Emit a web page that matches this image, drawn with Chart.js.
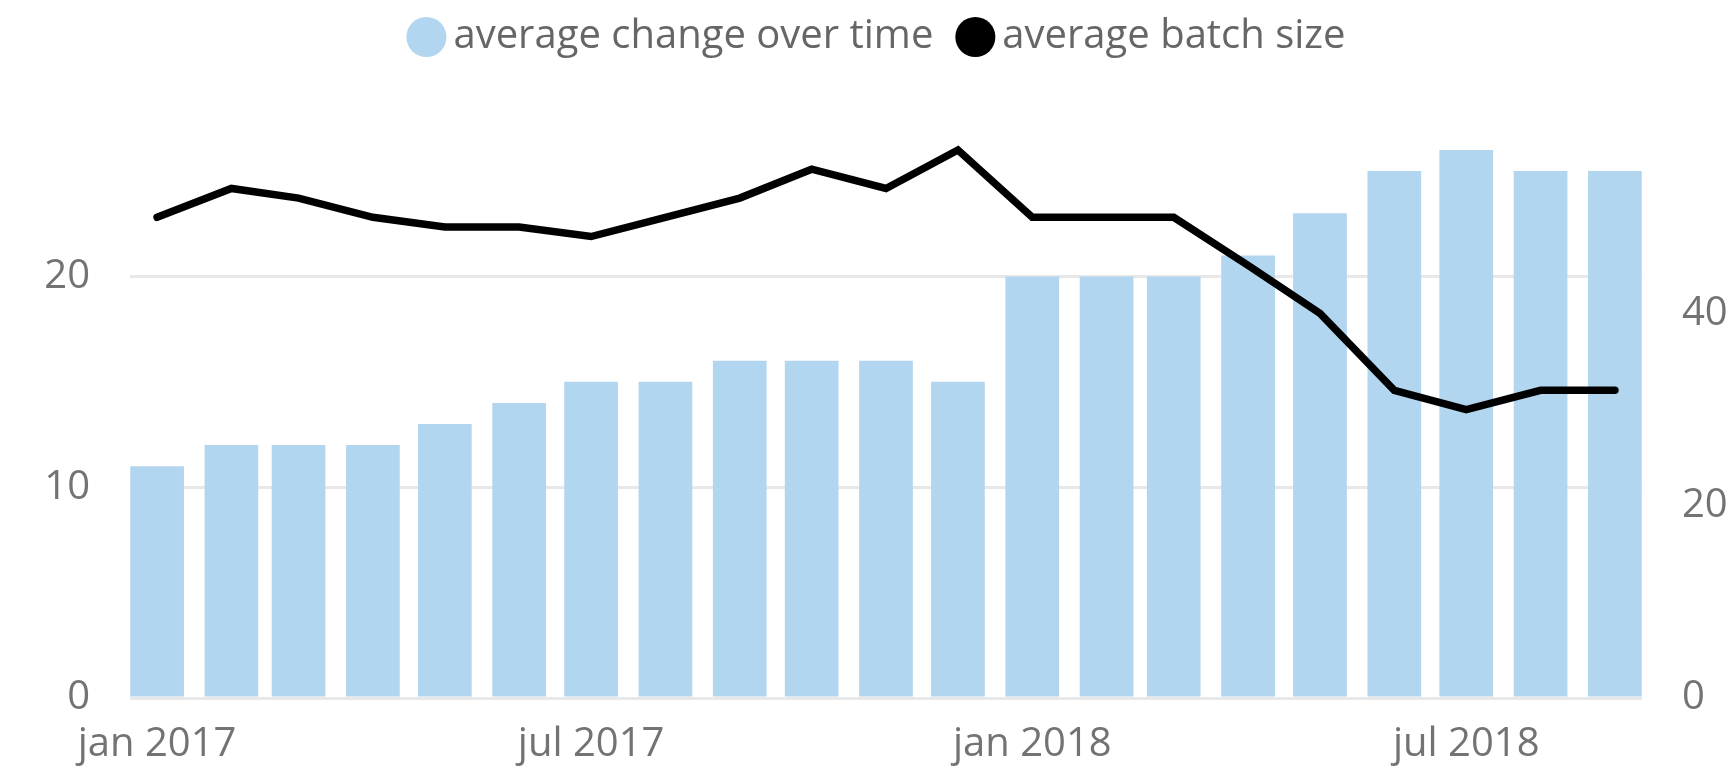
<!DOCTYPE html>
<html>
<head>
<meta charset="utf-8">
<style>
html,body{margin:0;padding:0;background:#fff;}
#wrap{width:1732px;height:769px;position:relative;}
</style>
<script src="https://cdn.jsdelivr.net/npm/chart.js@4.4.1/dist/chart.umd.min.js"></script>
</head>
<body>
<div id="wrap"><canvas id="c" width="1732" height="769"></canvas></div>
<script>
// ---- data ----
const months = ['2017-01','2017-02','2017-03','2017-04','2017-05','2017-06','2017-07','2017-08','2017-09','2017-10','2017-11','2017-12',
                '2018-01','2018-02','2018-03','2018-04','2018-05','2018-06','2018-07','2018-08','2018-09'];
const avgChange = [11,12,12,12,13,14,15,15,16,16,16,15,20,20,20,21,23,25,26,25,25];
const avgBatch  = [50,53,52,50,49,49,48,50,52,55,53,57,50,50,50,45,40,32,30,32,32];
const seriesNames = ['average change over time','average batch size'];
const tickMonths = ['2017-01','2017-07','2018-01','2018-07'];
const tickLabels = ['jan 2017','jul 2017','jan 2018','jul 2018'];
const leftTicks = [0,10,20];
const rightTicks = [0,20,40];

// days since 1 Jan 2017 for a 'YYYY-MM' month
function dayOf(m){
  const [y, mo] = m.split('-').map(Number);
  return (Date.UTC(y, mo-1, 1) - Date.UTC(2017,0,1)) / 86400000;
}
const tickDays = tickMonths.map(dayOf);

const FONT = "'Open Sans', 'Noto Sans', sans-serif";
const TICK_COLOR = '#737373';

new Chart(document.getElementById('c'), {
  type: 'bar',
  data: {
    datasets: [
      {
        type: 'bar',
        label: seriesNames[0],
        data: months.map((m,i) => ({x: dayOf(m), y: avgChange[i]})),
        backgroundColor: '#b2d6ef',
        borderWidth: 0,
        barPercentage: 1,
        categoryPercentage: 0.8,
        yAxisID: 'y',
        order: 1
      },
      {
        type: 'line',
        label: seriesNames[1],
        data: months.map((m,i) => ({x: dayOf(m), y: avgBatch[i]})),
        borderColor: '#000',
        backgroundColor: '#000',
        borderWidth: 7.5,
        borderCapStyle: 'round',
        pointRadius: 0,
        pointHoverRadius: 0,
        tension: 0,
        fill: false,
        clip: 10,
        yAxisID: 'y1',
        order: 0
      }
    ]
  },
  options: {
    responsive: false,
    animation: false,
    events: [],
    layout: { padding: { top: -18, left: 33, right: 0, bottom: 0 } },
    plugins: {
      tooltip: { enabled: false },
      title: {
        display: true, text: '', position: 'top', weight: 500,
        font: { size: 10, lineHeight: 1 },
        padding: { top: 73, bottom: 0 }
      },
      legend: {
        display: true,
        position: 'top',
        labels: {
          usePointStyle: true,
          pointStyle: 'circle',
          boxWidth: 14,
          boxHeight: 28.3,
          padding: 35,
          color: '#666666',
          font: { family: FONT, size: 40 },
          sort: (a, b) => a.datasetIndex - b.datasetIndex,
          generateLabels(chart) {
            const items = Chart.defaults.plugins.legend.labels.generateLabels(chart);
            items.forEach(it => { it.lineWidth = 0; it.pointStyle = 'circle'; it.strokeStyle = 'rgba(0,0,0,0)'; });
            return items;
          }
        }
      }
    },
    scales: {
      x: {
        type: 'linear',
        offset: false,
        bounds: 'data',
        min: -11.3,
        max: 619.3,
        grid: { display: false, drawTicks: false, offset: false },
        border: { display: false },
        afterBuildTicks: s => { s.ticks = tickDays.map(v => ({ value: v })); },
        afterFit: s => { s.height = 71; },
        ticks: {
          autoSkip: false,
          maxRotation: 0,
          minRotation: 0,
          padding: 23,
          color: TICK_COLOR,
          font: { family: FONT, size: 40 },
          callback: v => { const i = tickDays.indexOf(v); return i >= 0 ? tickLabels[i] : ''; }
        }
      },
      y: {
        type: 'linear',
        position: 'left',
        min: 0,
        max: 26,
        grid: { color: '#e8e8e8', lineWidth: 3, drawTicks: false },
        border: { display: false },
        afterBuildTicks: s => { s.ticks = leftTicks.map(v => ({ value: v })); },
        afterFit: s => { s.width = 97; },
        ticks: {
          padding: 40,
          color: TICK_COLOR,
          font: { family: FONT, size: 40 }
        }
      },
      y1: {
        type: 'linear',
        position: 'right',
        min: 0,
        max: 57,
        grid: { display: false, drawTicks: false, drawOnChartArea: false },
        border: { display: false },
        afterBuildTicks: s => { s.ticks = rightTicks.map(v => ({ value: v })); },
        afterFit: s => { s.width = 90; },
        ticks: {
          padding: 40,
          color: TICK_COLOR,
          font: { family: FONT, size: 40 }
        }
      }
    }
  }
});
</script>
</body>
</html>
